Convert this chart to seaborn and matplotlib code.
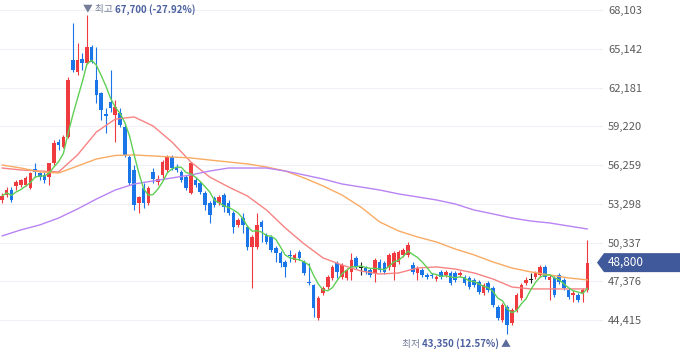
import matplotlib
matplotlib.use('Agg')
import matplotlib.pyplot as plt
import seaborn as sns
import numpy as np
import pandas as pd
from matplotlib.patches import Polygon

# 일봉 시세 (원)
opens = [53600, 53950, 54350, 54650, 54750, 54750, 54500, 55950, 55650, 55500,
         55350, 56400, 58000, 57650, 58400, 64300, 63350, 64350, 64050, 65300,
         62750, 61750, 60150, 61050, 60100, 60250, 59150, 56850, 55900, 53350,
         54500, 53350, 55750, 54950, 55500, 55900, 56850, 56100, 55750, 55350,
         54100, 55100, 54900, 54100, 53350, 53750, 53350, 53950, 53350, 52600,
         51700, 52200, 51500, 50000, 50000, 51900, 50900, 50750, 49900, 49550,
         48850, 49400, 49000, 49600, 48850, 47300, 47100, 44550, 46500, 46950,
         47650, 48750, 47700, 47650, 48100, 49150, 48400, 48400, 48250, 48000,
         48850, 48750, 48450, 48450, 48850, 49400, 49400, 48600, 48000, 48250,
         47850, 47850, 47550, 48100, 47850, 48000, 48000, 47850, 47700, 47650,
         47500, 47300, 46500, 47250, 46850, 45400, 44400, 45400, 44200, 45200,
         46100, 47250, 47500, 47700, 47850, 48450, 47500, 47650, 47850, 47500,
         46700, 46350, 46350, 46500, 46700]
highs = [54100, 54600, 54600, 55100, 55200, 55400, 55750, 56400, 55750, 55750,
         56400, 58150, 58250, 58550, 63000, 67100, 65600, 64800, 67700, 65450,
         65300, 61850, 60600, 63500, 61250, 60600, 59300, 57000, 56250, 53900,
         54900, 54650, 56050, 55500, 56650, 57000, 57000, 56350, 55900, 55500,
         56500, 55350, 55050, 54300, 53500, 53900, 53950, 54100, 53600, 52750,
         52200, 52600, 51700, 50900, 52600, 52050, 51050, 50900, 50050, 49700,
         49000, 49750, 49550, 49750, 49000, 48750, 47150, 46250, 47000, 47850,
         48600, 48950, 48750, 48400, 49550, 49300, 48850, 48550, 48400, 49150,
         49100, 48950, 49550, 49700, 49750, 49900, 50400, 48850, 48550, 48400,
         48000, 48000, 47850, 48250, 48250, 48150, 48150, 48150, 47850, 47800,
         47650, 47500, 47250, 47400, 47000, 45550, 45700, 45550, 45350, 46500,
         47250, 47700, 48000, 48150, 48600, 48600, 47850, 47800, 48000, 47650,
         46850, 46700, 46500, 46850, 50550]
lows = [53350, 53800, 53450, 54350, 54600, 54650, 54450, 55350, 55100, 54900,
        54750, 56250, 57400, 57550, 58300, 63350, 63150, 63500, 64000, 64050,
        61000, 59700, 58700, 60300, 58000, 59150, 56850, 54750, 52800, 52600,
        53000, 53200, 54900, 54750, 55250, 55750, 55900, 55750, 54950, 54350,
        54050, 54600, 54050, 52800, 51850, 53050, 53200, 52650, 52450, 51050,
        51500, 51050, 49750, 46850, 49850, 50400, 50250, 49600, 48850, 48450,
        47700, 48850, 48850, 49000, 47850, 47100, 44650, 44400, 46350, 46800,
        47500, 47650, 47550, 47500, 47500, 48300, 47850, 47950, 47700, 47300,
        48100, 47950, 48250, 47500, 48700, 49250, 49250, 47950, 47500, 47700,
        47550, 47650, 47400, 47550, 47700, 47100, 47300, 47700, 47100, 46800,
        46950, 46400, 46350, 46550, 45400, 44400, 44250, 43350, 44050, 45050,
        45950, 47100, 47250, 47550, 47700, 47550, 45950, 46200, 47150, 46700,
        46000, 45800, 45800, 45800, 46550]
closes = [53900, 54350, 53600, 54950, 55100, 55250, 55650, 55750, 55350, 55100,
          56400, 57950, 57800, 58400, 62750, 63500, 64300, 64050, 65300, 64150,
          61600, 60450, 60000, 60600, 60700, 59300, 57000, 54900, 53200, 53800,
          53350, 54500, 55200, 55200, 56500, 56850, 56050, 55900, 55100, 54500,
          56400, 54750, 54200, 53200, 52450, 53200, 53800, 53050, 52600, 51500,
          52050, 51700, 50000, 50750, 51700, 51500, 50400, 49750, 49550, 48750,
          48450, 49300, 49400, 49150, 48000, 47250, 45350, 46100, 46850, 47700,
          48450, 48100, 48600, 48250, 49000, 48450, 48400, 48100, 47850, 49000,
          48250, 48100, 49400, 49550, 49600, 49750, 50150, 48100, 48400, 47850,
          47700, 47800, 47700, 47700, 48100, 47250, 47500, 48000, 47250, 46950,
          47100, 46550, 47100, 46700, 45550, 44550, 45550, 44050, 45200, 46350,
          47100, 47500, 47500, 48000, 48450, 47700, 47700, 46350, 47300, 46850,
          46200, 46500, 45950, 46700, 48800]

# 이동평균선 (4봉 간격으로 읽은 값)
ma_idx = list(range(0, 125, 4))
ma20 = [56030, 55880, 55800, 55730, 57030, 58780, 59770, 59930, 59240, 58020,
        56490, 55340, 54580, 53890, 52830, 51450, 50230, 49160, 48620, 48160,
        47930, 48010, 48390, 48470, 48310, 48010, 47550, 46940, 46790, 46790,
        46790, 46790]
ma60 = [56260, 56030, 55730, 55650, 56180, 56720, 56990, 57030, 56950, 56870,
        56800, 56640, 56490, 56340, 56110, 55800, 55270, 54660, 53970, 53050,
        51910, 51220, 50760, 50380, 49840, 49390, 48850, 48390, 48090, 47860,
        47630, 47480]
ma120 = [50840, 51300, 51680, 52210, 52900, 53660, 54350, 54810, 55040, 55270,
         55500, 55800, 56030, 56030, 56030, 55800, 55500, 55190, 54810, 54580,
         54350, 54050, 53820, 53590, 53280, 52820, 52520, 52210, 51980, 51830,
         51600, 51370]

y_ticks = [44415, 47376, 50337, 53298, 56259, 59220, 62181, 65142, 68103]

UP, DOWN, FLAT = '#ef3a3f', '#1a75e8', '#222222'
TAG = '#40599a'

sns.set_style('white')
plt.rcParams['font.family'] = ['Noto Sans CJK KR', 'DejaVu Sans']

fig = plt.figure(figsize=(6.8, 3.58), dpi=100)
ax = fig.add_axes([0, 0, 603 / 680, 1])

o = np.array(opens, dtype=float)
c = np.array(closes, dtype=float)
idx = np.arange(len(closes))
colors = np.where(c > o, UP, np.where(c < o, DOWN, FLAT))

# 캔들
ax.vlines(idx, lows, highs, colors=colors, lw=0.8, zorder=2)
body_h = np.maximum(np.abs(c - o), 70)
body_lo = np.minimum(o, c) - (body_h - np.abs(c - o)) / 2
ax.bar(idx, body_h, bottom=body_lo, width=0.76, color=colors, lw=0, zorder=3)

# 이동평균선
ma_df = pd.DataFrame({'idx': ma_idx, 'MA20': ma20, 'MA60': ma60, 'MA120': ma120})
ma_long = ma_df.melt('idx', var_name='line', value_name='price')
sns.lineplot(data=ma_long, x='idx', y='price', hue='line',
             palette={'MA20': '#f78383', 'MA60': '#f9ab63', 'MA120': '#b983f3'},
             legend=False, lw=1.0, ax=ax, zorder=4)
ma5 = pd.DataFrame({'idx': idx, 'price': pd.Series(closes).rolling(5, min_periods=1).mean()})
sns.lineplot(data=ma5, x='idx', y='price', color='#5fcf55', lw=1.0, ax=ax, zorder=5)

step = y_ticks[1] - y_ticks[0]
ax.set_ylim(y_ticks[0] - 0.98 * step, y_ticks[-1] + 0.258 * step)
ax.set_xlim(-0.42, 127.3)
ax.set_yticks(y_ticks)
ax.set_yticklabels([f'{v:,}' for v in y_ticks])
ax.yaxis.tick_right()
ax.tick_params(axis='y', length=0, pad=3.6, labelsize=8, labelcolor='#5a5a5a')
ax.set_xticks([])
ax.set_xlabel('')
ax.set_ylabel('')
ax.grid(axis='y', color='#eef0f6', lw=0.8)
for s in ax.spines.values():
    s.set_visible(False)

last = closes[-1]
hi = int(np.argmax(highs))
lo = int(np.argmin(lows))
pct_hi = (last / highs[hi] - 1) * 100
pct_lo = (last / lows[lo] - 1) * 100

# 최고가 표시
t1 = ax.annotate('▼ 최고 ', xy=(hi, highs[hi]), xytext=(-2.5, 4.3), textcoords='offset points',
                 ha='left', va='center', fontsize=7, color='#737d97')
ax.annotate(f'{highs[hi]:,} ({pct_hi:.2f}%)', xy=(1, 0.5), xycoords=t1, ha='left', va='center',
            fontsize=7, color='#4c61a0', fontweight='bold')

# 최저가 표시
b3 = ax.annotate(' ▲', xy=(lo, lows[lo]), xytext=(2.9, -7.2), textcoords='offset points',
                 ha='right', va='center', fontsize=7, color='#5d6c9a')
b2 = ax.annotate(f'{lows[lo]:,} ({pct_lo:.2f}%)', xy=(0, 0.5), xycoords=b3, ha='right', va='center',
                 fontsize=7, color='#4c61a0', fontweight='bold')
ax.annotate('최저 ', xy=(0, 0.5), xycoords=b2, ha='right', va='center', fontsize=7, color='#737d97')

# 현재가 태그
py = ax.transData.transform((0, last))[1]
W, H = 680, 358
pts = [(597, py), (604, py + 9.5), (680, py + 9.5), (680, py - 9.5), (604, py - 9.5)]
fig.add_artist(Polygon([(x / W, y / H) for x, y in pts], closed=True, fc=TAG, ec='none',
                       transform=fig.transFigure))
fig.text(608 / W, py / H, f'{last:,}', color='white', fontsize=8.5, ha='left', va='center')

fig.savefig('out.png', dpi=100)
